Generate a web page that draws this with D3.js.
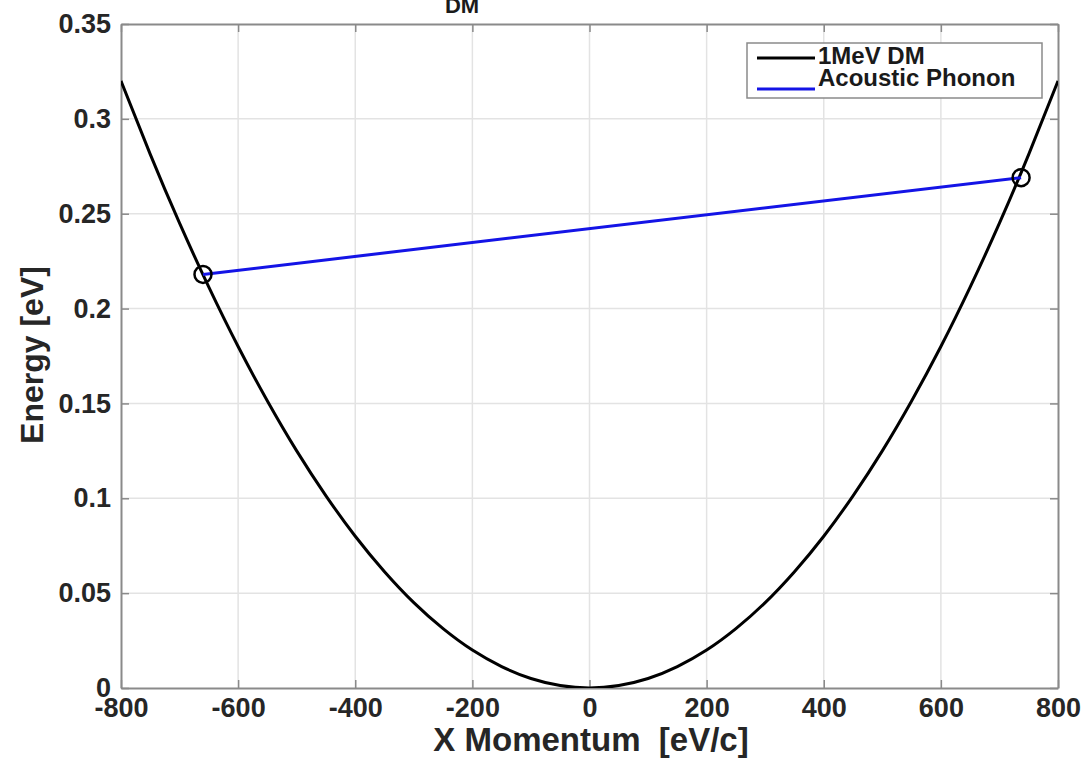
<!DOCTYPE html>
<html>
<head>
<meta charset="utf-8">
<script src="https://cdn.jsdelivr.net/npm/d3@7"></script>
<style>
  html, body { margin: 0; padding: 0; background: #fff; }
  svg { display: block; font-family: "Liberation Sans", Arial, Helvetica, sans-serif; }
</style>
</head>
<body>
<svg id="chart" width="1085" height="758"></svg>
<script>
// Dark-matter dispersion curve: momentum [eV/c] and energy [eV]
const dmMomentum = [-800, -750, -700, -650, -600, -550, -500, -450, -400, -350, -300, -250, -200, -150, -100, -50, 0,
                    50, 100, 150, 200, 250, 300, 350, 400, 450, 500, 550, 600, 650, 700, 750, 800];
const dmEnergy   = [0.320, 0.2813, 0.245, 0.2113, 0.180, 0.1513, 0.125, 0.1013, 0.080, 0.0613, 0.045, 0.0313, 0.020, 0.0113, 0.005, 0.0013, 0,
                    0.0013, 0.005, 0.0113, 0.020, 0.0313, 0.045, 0.0613, 0.080, 0.1013, 0.125, 0.1513, 0.180, 0.2113, 0.245, 0.2813, 0.320];

// Acoustic phonon segment joining the two marked points
const phononMomentum = [-660, 737];
const phononEnergy   = [0.218, 0.269];

// Axis ticks
const xTicks = [-800, -600, -400, -200, 0, 200, 400, 600, 800];
const yTicks = [0, 0.05, 0.1, 0.15, 0.2, 0.25, 0.3, 0.35];
const yTickLabels = ["0", "0.05", "0.1", "0.15", "0.2", "0.25", "0.3", "0.35"];

const legendLabels = ["1MeV DM", "Acoustic Phonon"];
const legendColors = ["#000000", "#1414e6"];

const svg = d3.select("#chart");
const plot = { left: 121, right: 1058, top: 24, bottom: 688 };

const x = d3.scaleLinear().domain([-800, 800]).range([plot.left, plot.right]);
const y = d3.scaleLinear().domain([0, 0.35]).range([plot.bottom, plot.top]);

const axisColor = "#8a8a8a";
const gridColor = "#e3e3e3";

// grid
const grid = svg.append("g");
grid.selectAll("line.gx").data(xTicks.slice(1, -1)).join("line")
  .attr("x1", d => x(d)).attr("x2", d => x(d))
  .attr("y1", plot.top).attr("y2", plot.bottom)
  .attr("stroke", gridColor).attr("stroke-width", 1.5);
grid.selectAll("line.gy").data(yTicks.slice(1, -1)).join("line")
  .attr("y1", d => y(d)).attr("y2", d => y(d))
  .attr("x1", plot.left).attr("x2", plot.right)
  .attr("stroke", gridColor).attr("stroke-width", 1.5);

// axes (ticks pointing inward, on all four sides)
const tickLen = 8;
const styleAxis = g => {
  g.select(".domain").attr("stroke", axisColor).attr("stroke-width", 2);
  g.selectAll(".tick line").attr("stroke", axisColor).attr("stroke-width", 1.5);
  g.selectAll("text").attr("fill", "#262626").attr("font-weight", "bold").attr("font-size", 27);
};

svg.append("g").attr("transform", `translate(0,${plot.bottom})`)
  .call(d3.axisBottom(x).tickValues(xTicks).tickSizeInner(-tickLen).tickSizeOuter(0).tickFormat(d => String(d)))
  .call(styleAxis)
  .call(g => g.selectAll("text").attr("dy", "0.71em").attr("y", 10));

svg.append("g").attr("transform", `translate(0,${plot.top})`)
  .call(d3.axisTop(x).tickValues(xTicks).tickSizeInner(-tickLen).tickSizeOuter(0).tickFormat(""))
  .call(styleAxis);

svg.append("g").attr("transform", `translate(${plot.left},0)`)
  .call(d3.axisLeft(y).tickValues(yTicks).tickSizeInner(-tickLen).tickSizeOuter(0)
    .tickFormat((d, i) => yTickLabels[i]))
  .call(styleAxis)
  .call(g => g.selectAll("text").attr("x", -10));

svg.append("g").attr("transform", `translate(${plot.right},0)`)
  .call(d3.axisRight(y).tickValues(yTicks).tickSizeInner(-tickLen).tickSizeOuter(0).tickFormat(""))
  .call(styleAxis);

// data
svg.append("clipPath").attr("id", "plotClip").append("rect")
  .attr("x", plot.left).attr("y", plot.top)
  .attr("width", plot.right - plot.left).attr("height", plot.bottom - plot.top);

const dmData = dmMomentum.map((p, i) => [p, dmEnergy[i]]);
const line = d3.line().x(d => x(d[0])).y(d => y(d[1])).curve(d3.curveNatural);

svg.append("path").datum(dmData)
  .attr("clip-path", "url(#plotClip)")
  .attr("d", line).attr("fill", "none")
  .attr("stroke", legendColors[0]).attr("stroke-width", 3);

const phData = phononMomentum.map((p, i) => [p, phononEnergy[i]]);
svg.append("path").datum(phData)
  .attr("d", d3.line().x(d => x(d[0])).y(d => y(d[1])))
  .attr("fill", "none").attr("stroke", legendColors[1]).attr("stroke-width", 3);

svg.selectAll("circle.pt").data(phData).join("circle")
  .attr("cx", d => x(d[0])).attr("cy", d => y(d[1])).attr("r", 8.5)
  .attr("fill", "none").attr("stroke", "#000").attr("stroke-width", 2.5);

// legend
const lg = svg.append("g");
lg.append("rect").attr("x", 747).attr("y", 43).attr("width", 295).attr("height", 55)
  .attr("fill", "#fff").attr("stroke", axisColor).attr("stroke-width", 1.5);
legendLabels.forEach((lab, i) => {
  const ly = 58 + i * 31;
  lg.append("line").attr("x1", 757).attr("x2", 815).attr("y1", ly).attr("y2", ly)
    .attr("stroke", legendColors[i]).attr("stroke-width", 3);
  lg.append("text").attr("x", 818).attr("y", 64 + i * 22)
    .attr("font-size", 24).attr("font-weight", "bold").attr("fill", "#1a1a1a").text(lab);
});

// axis titles
svg.append("text").attr("x", 591).attr("y", 751).attr("text-anchor", "middle")
  .attr("font-size", 33).attr("font-weight", "bold").attr("fill", "#262626")
  .style("white-space", "pre").text("X Momentum  [eV/c]");

svg.append("text").attr("transform", "translate(43,355) rotate(-90)").attr("text-anchor", "middle")
  .attr("font-size", 32).attr("font-weight", "bold").attr("fill", "#262626")
  .text("Energy [eV]");

// title subscript (the rest of the title lies above the canvas)
svg.append("text").attr("x", 462).attr("y", 13).attr("text-anchor", "middle")
  .attr("font-size", 22).attr("font-weight", "bold").attr("fill", "#1a1a1a").text("DM");
</script>
</body>
</html>
